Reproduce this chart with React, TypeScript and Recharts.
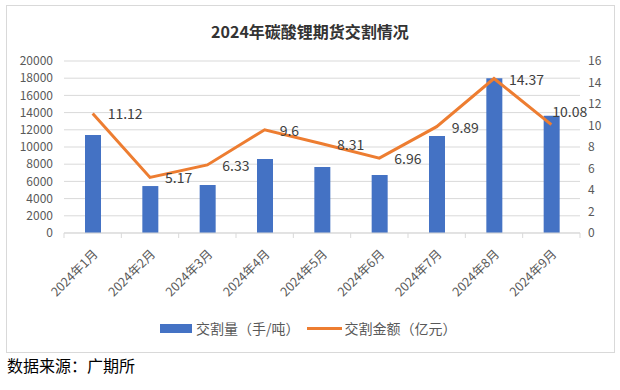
import React from 'react';
import { ComposedChart, Bar, Line, XAxis, YAxis, CartesianGrid, LabelList } from 'recharts';

const categories = ['2024年1月', '2024年2月', '2024年3月', '2024年4月', '2024年5月', '2024年6月', '2024年7月', '2024年8月', '2024年9月'];
const volume = [11400, 5460, 5580, 8600, 7670, 6740, 11280, 18000, 13640];
const amount = [11.12, 5.17, 6.33, 9.6, 8.31, 6.96, 9.89, 14.37, 10.08];
const leftTicks = [0, 2000, 4000, 6000, 8000, 10000, 12000, 14000, 16000, 18000, 20000];
const rightTicks = [0, 2, 4, 6, 8, 10, 12, 14, 16];
const seriesNames = ['交割量（手/吨）', '交割金额（亿元）'];
const title = '2024年碳酸锂期货交割情况';
const source = '数据来源：广期所';

const data = categories.map((c, i) => ({ name: c, volume: volume[i], amount: amount[i] }));

const FONT = '"Noto Sans CJK SC", "Noto Sans", sans-serif';
const CHART_W = 620;
const CHART_H = 352;
const LEFT_W = 64;
const RIGHT_W = 40;
const PLOT_W = CHART_W - LEFT_W - RIGHT_W;
const HALF_BAND = PLOT_W / categories.length / 2;

const XTick = (props: any) => {
  const { x, y, payload, index } = props;
  const last = index === categories.length - 1;
  return (
    <g>
      <line x1={x - HALF_BAND} x2={x - HALF_BAND} y1={y} y2={y + 5} stroke="#D9D9D9" />
      {last && <line x1={x + HALF_BAND} x2={x + HALF_BAND} y1={y} y2={y + 5} stroke="#D9D9D9" />}
      <g transform={`translate(${x + 6},${y + 22})`}>
        <text transform="rotate(-45)" textAnchor="end" fontSize={12.5} fill="#595959" fontFamily={FONT}>
          {payload.value}
        </text>
      </g>
    </g>
  );
};

const AmountLabel = (props: any) => {
  const { x, y, value, index } = props;
  const last = index === amount.length - 1;
  return (
    <text
      x={last ? x + 1 : x + 15}
      y={last ? y - 14 : y}
      dominantBaseline="central"
      fontSize={14}
      fill="#404040"
      fontFamily={FONT}
    >
      {value}
    </text>
  );
};

export default function App() {
  return (
    <div style={{ position: 'absolute', left: 0, top: 0, width: 620, height: 390, background: '#fff', fontFamily: FONT }}>
      <div style={{ position: 'absolute', left: 6, top: 5, width: 607, height: 346, border: '1px solid #D9D9D9' }} />
      <div style={{ position: 'absolute', left: 0, top: 20, width: 620, textAlign: 'center', fontSize: 16, fontWeight: 'bold', color: '#333333', lineHeight: '22px' }}>
        {title}
      </div>
      <div style={{ position: 'absolute', left: 0, top: 0 }}>
        <ComposedChart width={CHART_W} height={CHART_H} data={data} margin={{ top: 61, right: 0, bottom: 39, left: 0 }}>
          <CartesianGrid yAxisId="left" vertical={false} stroke="#D9D9D9" />
          <XAxis
            dataKey="name"
            height={80}
            tickSize={0}
            tickMargin={0}
            interval={0}
            axisLine={{ stroke: '#D9D9D9' }}
            tickLine={false}
            tick={<XTick />}
          />
          <YAxis
            yAxisId="left"
            orientation="left"
            width={LEFT_W}
            domain={[0, 20000]}
            ticks={leftTicks}
            interval={0}
            axisLine={false}
            tickLine={false}
            tickMargin={5}
            tick={{ fontSize: 12, fill: '#595959', fontFamily: FONT }}
          />
          <YAxis
            yAxisId="right"
            orientation="right"
            width={RIGHT_W}
            domain={[0, 16]}
            ticks={rightTicks}
            interval={0}
            axisLine={false}
            tickLine={false}
            tick={{ fontSize: 12, fill: '#595959', fontFamily: FONT }}
          />
          <Bar yAxisId="left" dataKey="volume" fill="#4472C4" barSize={16} isAnimationActive={false} />
          <Line yAxisId="right" dataKey="amount" type="linear" stroke="#ED7D31" strokeWidth={3} dot={false} isAnimationActive={false}>
            <LabelList dataKey="amount" content={<AmountLabel />} />
          </Line>
        </ComposedChart>
      </div>
      <div style={{ position: 'absolute', left: 160, top: 318, height: 20, display: 'flex', alignItems: 'center', fontSize: 14, color: '#595959', whiteSpace: 'nowrap' }}>
        <span style={{ display: 'inline-block', width: 32, height: 9, background: '#4472C4', marginRight: 4 }} />
        <span style={{ marginRight: 7 }}>{seriesNames[0]}</span>
        <span style={{ display: 'inline-block', width: 35, height: 3, background: '#ED7D31', marginRight: 3 }} />
        <span>{seriesNames[1]}</span>
      </div>
      <div style={{ position: 'absolute', left: 7, top: 354, fontSize: 16, color: '#000', lineHeight: '22px' }}>
        {source}
      </div>
    </div>
  );
}
